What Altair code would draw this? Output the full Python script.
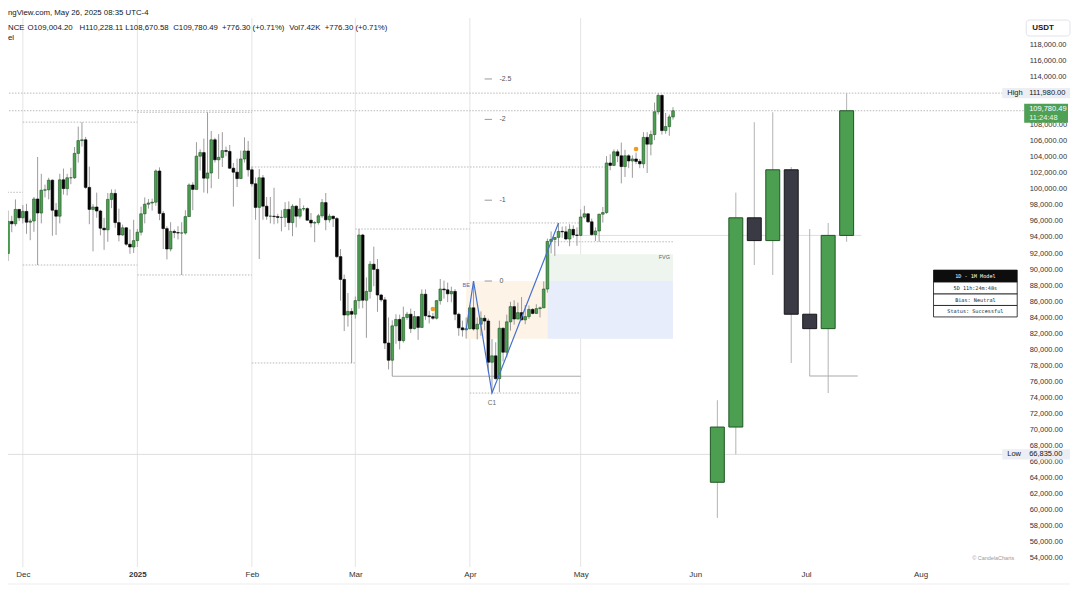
import altair as alt
import pandas as pd

# ---------------- daily BTC/USDT candles (from 2024-11-26) ----------------
first_day = "2024-11-26"
d_open = [93000, 91950, 95950, 95650, 97450,
          96400, 97200, 95850, 96000, 98750, 97000, 99850, 99900, 101100, 97350, 96600, 101150, 100050, 101400, 101400, 104450, 106050, 106150, 100200, 97450, 97750, 97250, 95100, 94900, 98700, 99450, 95800, 94250, 95150, 93100, 92750,
          93550, 94600, 96900, 98100, 98250, 98350, 102250, 96950, 95050, 92500, 94700, 94550, 94500, 94500, 96550, 100500, 99950, 104100, 104550, 101350, 102000, 106150, 103650, 103950, 104800, 104700, 102600, 102100, 101300, 103750, 104750,
          102400, 100650, 97700, 101400, 97850, 96600, 96600, 96550, 96450, 96450, 97450, 95800, 97850, 96600, 97500, 97550, 96100, 95750, 95800, 96650, 98300, 96150, 96600, 96300, 91550, 88700, 84250, 84700,
          84350, 86050, 94250, 86100, 87200, 90600, 89950, 86750, 86150, 80750, 78600, 82900, 83700, 81050, 83950, 84350, 82550, 84050, 82700, 86850, 84150, 84050, 83850, 86050, 87500, 87400, 86900, 87200, 84350, 82650, 82400,
          82550, 85150, 82500, 83100, 83850, 83500, 78350, 79150, 76300, 82600, 79600, 83400, 85300, 83750, 84550, 83650, 84050, 84950, 84450, 85050, 85150, 87500, 93450, 93700, 93950, 94700, 94650, 93750, 94950, 94250,
          94200, 96500, 96900, 95900, 94300, 94750, 96850, 97050, 103250, 102950, 104650, 104150, 102800, 104150, 103500, 103750, 103450, 103150, 106450, 105600, 106800, 109650, 111700, 107300, 107800, 109004]
d_high = [94900, 97300, 96650, 98700, 97500,
          98000, 98150, 96300, 99000, 104000, 101900, 100550, 101400, 101200, 98250, 101900, 102550, 101900, 102650, 105250, 107800, 108350, 106500, 102800, 98100, 99550, 97400, 96400, 99500, 99950, 99950, 97550, 95550, 95250, 94950, 96150,
          95000, 97800, 98950, 98750, 98800, 102450, 102700, 97250, 95350, 95850, 94950, 95350, 95850, 97350, 100700, 100850, 105850, 104950, 106300, 109590, 107250, 106400, 106850, 107100, 105300, 105500, 103250, 103800, 104800, 106450, 106000,
          102800, 101450, 102500, 101750, 99000, 99000, 100150, 96900, 97350, 98350, 98450, 98100, 97950, 98850, 97950, 97700, 97000, 96000, 96900, 98750, 99500, 96900, 96650, 96500, 92500, 89300, 87000, 85100,
          86550, 95000, 94400, 88950, 91000, 92800, 91250, 86900, 86500, 83950, 83600, 84350, 84300, 85300, 84650, 85050, 84750, 84100, 87450, 87450, 84800, 84500, 86100, 88750, 88550, 88300, 87800, 87500, 84550, 83550, 83950,
          85500, 88500, 83950, 84700, 84250, 83800, 81250, 80850, 83550, 82700, 84300, 85900, 86100, 85800, 86500, 85500, 85450, 85100, 85600, 85300, 88450, 93800, 94700, 94000, 95750, 95300, 95350, 95600, 95450, 95200,
          97450, 97900, 96950, 96300, 95200, 96900, 97750, 104100, 104350, 104950, 104950, 105800, 104900, 104350, 104200, 104550, 103750, 107100, 107100, 107300, 110800, 111980, 111800, 109500, 109300, 110228]
d_low = [90800, 91000, 94600, 95350, 96000,
         95700, 94400, 93600, 94650, 90500, 95700, 98950, 98700, 94150, 94250, 95700, 99300, 99200, 100600, 101250, 103300, 105300, 100000, 95600, 92200, 96400, 94200, 92400, 93400, 97600, 95150, 93450, 94150, 92900, 91900, 92000,
         92750, 94200, 95700, 97550, 97300, 97900, 96100, 92500, 91200, 92200, 93850, 93700, 89250, 94300, 96500, 97350, 99950, 102300, 99550, 99450, 100100, 103300, 101250, 102750, 104100, 102500, 97800, 100250, 101250, 103300, 101550,
         100300, 96150, 91250, 96150, 96150, 95700, 95600, 95700, 94700, 95250, 94850, 94100, 95200, 96300, 97250, 96050, 95200, 93350, 95550, 96400, 94850, 95800, 95250, 91350, 86050, 82250, 82800, 78250,
         83800, 85050, 85100, 81400, 86300, 87850, 84650, 85900, 80000, 77450, 76600, 80650, 79950, 80800, 83650, 82000, 82450, 81150, 82650, 83650, 83200, 83650, 83700, 85550, 86300, 85850, 85850, 83600, 81650, 81550, 81300,
         82450, 82300, 81200, 81650, 82350, 77150, 74500, 76200, 74600, 78450, 78950, 82300, 83050, 83700, 83600, 83100, 83750, 84350, 84400, 83950, 85150, 87050, 91950, 91650, 92850, 93900, 93600, 92850, 93900, 92900,
         94100, 96300, 95750, 94150, 93500, 93400, 95800, 96900, 102350, 102850, 103350, 100700, 101500, 102600, 101400, 103100, 102600, 102600, 102000, 104200, 106100, 109300, 106800, 106900, 106650, 108670]
d_close = [91950, 95950, 95650, 97450, 96400,
           97200, 95850, 96000, 98750, 97000, 99850, 99900, 101100, 97350, 96600, 101150, 100050, 101400, 101400, 104450, 106050, 106150, 100200, 97450, 97750, 97250, 95100, 94900, 98700, 99450, 95800, 94250, 95150, 93100, 92750, 93550,
           94600, 96900, 98100, 98250, 98350, 102250, 96950, 95050, 92500, 94700, 94550, 94500, 94500, 96550, 100500, 99950, 104100, 104550, 101350, 102000, 106150, 103650, 103950, 104800, 104700, 102600, 102100, 101300, 103750, 104750, 102400,
           100650, 97700, 101400, 97850, 96600, 96600, 96550, 96450, 96450, 97450, 95800, 97850, 96600, 97500, 97550, 96100, 95750, 95800, 96650, 98300, 96150, 96600, 96300, 91550, 88700, 84250, 84700, 84350,
           86050, 94250, 86100, 87200, 90600, 89950, 86750, 86150, 80750, 78600, 82900, 83700, 81050, 83950, 84350, 82550, 84050, 82700, 86850, 84150, 84050, 83850, 86050, 87500, 87400, 86900, 87200, 84350, 82650, 82400, 82550,
           85150, 82500, 83100, 83850, 83500, 78350, 79150, 76300, 82600, 79600, 83400, 85300, 83750, 84550, 83650, 84050, 84950, 84450, 85050, 85150, 87500, 93450, 93700, 93950, 94700, 94650, 93750, 94950, 94250, 94200,
           96500, 96900, 95900, 94300, 94750, 96850, 97050, 103250, 102950, 104650, 104150, 102800, 104150, 103500, 103750, 103450, 103150, 106450, 105600, 106800, 109650, 111700, 107300, 107800, 109004, 109780]

# ---------------- monthly candles (Oct 2024 .. May 2025), projected to the right ----------------
m_names = ["Oct 2024", "Nov 2024", "Dec 2024", "Jan 2025", "Feb 2025", "Mar 2025", "Apr 2025", "May 2025"]
m_open = [63350, 70250, 96400, 93550, 102400, 84350, 82550, 94200]
m_high = [73600, 99550, 108350, 109590, 102750, 95000, 95750, 111980]
m_low = [58900, 66835, 90500, 89250, 78250, 76600, 74500, 93400]
m_close = [70250, 96400, 93550, 102400, 84350, 82550, 94200, 109780]

# ---------------- levels ----------------
dot_start = ["2024-11-26", "2024-12-01", "2024-12-01", "2025-01-01", "2025-01-01", "2025-02-01", "2025-02-01",
             "2025-03-01", "2025-04-01", "2025-04-01", "2025-04-24"]
dot_end = ["2024-12-01", "2025-01-01", "2025-01-01", "2025-02-01", "2025-02-01", "2025-05-08", "2025-03-01",
           "2025-04-01", "2025-05-01", "2025-05-01", "2025-05-26"]
dot_price = [99588, 108353, 90500, 109588, 89256, 102750, 78258, 95000, 95758, 74500, 93400]

full_dotted_price = [111980, 109780]     # all-time high and last price, across the whole pane
full_solid_price = [66835]               # range low, across the whole pane

swing_start = ["2025-03-11", "2025-07-02"]
swing_end = ["2025-05-01", "2025-07-15"]
swing_price = [76600, 76630]

light_start = ["2025-05-01"]
light_end = ["2025-07-16"]
light_price = [94200]

zone_start = ["2025-03-31", "2025-04-22", "2025-04-22"]
zone_end = ["2025-04-22", "2025-05-26", "2025-05-26"]
zone_low = [81300, 88500, 81300]
zone_high = [88500, 91850, 88500]
zone_fill = ["#fdf3e7", "#eef5ee", "#e7edfb"]

zz_dates = ["2025-03-31", "2025-04-02", "2025-04-07", "2025-04-25"]
zz_price = [82400, 88500, 74500, 95750]

dot_dates = ["2025-03-22", "2025-05-16"]
dot_vals = [85000, 105000]

sd_labels = ["-2.5", "-2", "-1", "0"]
sd_price = [113750, 108700, 98600, 88500]

month_ticks = ["2024-12-01", "2025-01-01", "2025-02-01", "2025-03-01", "2025-04-01",
               "2025-05-01", "2025-06-01", "2025-07-01", "2025-08-01"]
grid_months = month_ticks[:6]   # the screenshot shows no grid in the empty future area

FONT = "Liberation Sans"
MONO = "DejaVu Sans Mono"
GREEN = "#4c9e51"
GREEN_EDGE = "#1f5523"


def iso(s):
    return pd.Timestamp(s).strftime("%Y-%m-%dT%H:%M:%SZ")


dates = pd.date_range(first_day, periods=len(d_open), freq="D")
daily = pd.DataFrame({"date": dates.strftime("%Y-%m-%dT%H:%M:%SZ"), "open": d_open, "high": d_high,
                      "low": d_low, "close": d_close})
daily_up = daily[daily["close"] >= daily["open"]]
daily_dn = daily[daily["close"] < daily["open"]]

proj = pd.date_range("2025-06-07", periods=len(m_open), freq="5D")
monthly = pd.DataFrame({"date": proj.strftime("%Y-%m-%dT%H:%M:%SZ"), "name": m_names, "open": m_open,
                        "high": m_high, "low": m_low, "close": m_close})
monthly_up = monthly[monthly["close"] >= monthly["open"]]
monthly_dn = monthly[monthly["close"] < monthly["open"]]

dots_df = pd.DataFrame({"s": [iso(s) for s in dot_start], "e": [iso(s) for s in dot_end], "p": dot_price})
swing_df = pd.DataFrame({"s": [iso(s) for s in swing_start], "e": [iso(s) for s in swing_end], "p": swing_price})
light_df = pd.DataFrame({"s": [iso(s) for s in light_start], "e": [iso(s) for s in light_end], "p": light_price})
zz_df = pd.DataFrame({"d": [iso(s) for s in zz_dates], "p": zz_price, "o": list(range(len(zz_dates)))})
od_df = pd.DataFrame({"d": [iso(s) for s in dot_dates], "p": dot_vals})
sd_df = pd.DataFrame({"lab": sd_labels, "p": sd_price, "s": iso("2025-04-05"), "e": iso("2025-04-07"),
                      "t": iso("2025-04-09")})
grid_df = pd.DataFrame({"d": [iso(s) for s in grid_months]})
fdot_df = pd.DataFrame({"p": full_dotted_price})
fsol_df = pd.DataFrame({"p": full_solid_price})

XS = alt.Scale(type="utc", domain=[alt.DateTime(year=2024, month=11, date=28, hours=8, utc=True),
                                   alt.DateTime(year=2025, month=8, date=27, hours=17, utc=True)])
YS = alt.Scale(domain=[52762, 122482], nice=False, zero=False)

tick_vals = []
for t in month_ticks:
    ts = pd.Timestamp(t)
    tick_vals.append(alt.DateTime(year=ts.year, month=ts.month, date=1, utc=True))

XAX = alt.Axis(values=tick_vals, title=None, grid=False, domain=False,
               ticks=False, labelFont=FONT, labelFontSize=8, labelColor="#333333", labelPadding=4,
               labelAlign="center",
               labelExpr="utcmonth(datum.value)==0 ? utcFormat(datum.value,'%Y') : utcFormat(datum.value,'%b')",
               labelFontWeight={"condition": {"test": "utcmonth(datum.value)==0", "value": "bold"},
                                "value": "normal"})
YAX = alt.Axis(orient="right", values=list(range(54000, 118001, 2000)), format=",.2f", title=None, grid=False,
               domain=False, ticks=False, labelFont=FONT, labelFontSize=7.5, labelColor="#333333",
               labelPadding=5)


def X(f):
    return alt.X(f, type="temporal", scale=XS, axis=XAX)


def Y(f):
    return alt.Y(f, type="quantitative", scale=YS, axis=YAX)


grid = alt.Chart(grid_df).mark_rule(color="#e4e4e4", strokeWidth=1).encode(
    x=X("d"), y=alt.value(9), y2=alt.value(560))

zones = []
for s, e, lo, hi, col in zip(zone_start, zone_end, zone_low, zone_high, zone_fill):
    zdf = pd.DataFrame({"s": [iso(s)], "e": [iso(e)], "lo": [lo], "hi": [hi]})
    zones.append(alt.Chart(zdf).mark_rect(fill=col).encode(x=X("s"), x2="e", y=Y("lo"), y2="hi"))

dotted = alt.Chart(dots_df).mark_rule(color="#b9b9b9", strokeDash=[1.5, 1.5], strokeWidth=1).encode(
    x=X("s"), x2="e", y=Y("p"))
full_dotted = alt.Chart(fdot_df).mark_rule(color="#b9b9b9", strokeDash=[1.5, 1.5], strokeWidth=1).encode(
    x=alt.value(-8), x2=alt.value(1020), y=Y("p"))
full_solid = alt.Chart(fsol_df).mark_rule(color="#dedede", strokeWidth=1).encode(
    x=alt.value(-8), x2=alt.value(1020), y=Y("p"))
swing = alt.Chart(swing_df).mark_rule(color="#a9a9a9", strokeWidth=1).encode(x=X("s"), x2="e", y=Y("p"))
light = alt.Chart(light_df).mark_rule(color="#dedede", strokeWidth=1).encode(x=X("s"), x2="e", y=Y("p"))

wicks = alt.Chart(daily).mark_rule(color="#9c9c9c", strokeWidth=1).encode(
    x=X("date"), y=Y("low"), y2="high")
bodies_up = alt.Chart(daily_up).mark_bar(size=2.7, fill=GREEN, stroke=GREEN_EDGE, strokeWidth=0.6).encode(
    x=X("date"), y=Y("open"), y2="close")
bodies_dn = alt.Chart(daily_dn).mark_bar(size=2.7, fill="#050505", stroke="#000000", strokeWidth=0.6).encode(
    x=X("date"), y=Y("open"), y2="close")

m_wicks = alt.Chart(monthly).mark_rule(color="#b3b3b3", strokeWidth=1).encode(x=X("date"), y=Y("low"), y2="high")
m_up = alt.Chart(monthly_up).mark_bar(size=14, fill=GREEN, stroke=GREEN_EDGE, strokeWidth=1).encode(
    x=X("date"), y=Y("open"), y2="close")
m_dn = alt.Chart(monthly_dn).mark_bar(size=14, fill="#3a3a44", stroke="#15151a", strokeWidth=1).encode(
    x=X("date"), y=Y("open"), y2="close")

zigzag = alt.Chart(zz_df).mark_line(color="#4470cf", strokeWidth=1.2).encode(x=X("d"), y=Y("p"), order="o:Q")
odots = alt.Chart(od_df).mark_circle(color="#f29a1e", size=22, opacity=1).encode(x=X("d"), y=Y("p"))

sd_dash = alt.Chart(sd_df).mark_rule(color="#9a9a9a", strokeWidth=1).encode(x=X("s"), x2="e", y=Y("p"))
sd_text = alt.Chart(sd_df).mark_text(align="left", baseline="middle", font=FONT, fontSize=7, color="#555555").encode(
    x=X("t"), y=Y("p"), text="lab:N")

ann_df = pd.DataFrame({"d": [iso("2025-04-07"), iso("2025-05-26"), iso("2025-04-01")],
                       "p": [73300, 91500, 88050], "lab": ["C1", "FVG", "BE"]})
c1 = alt.Chart(ann_df.iloc[[0]]).mark_text(align="center", baseline="middle", font=FONT, fontSize=6.5,
                                          color="#5d6b63").encode(x=X("d"), y=Y("p"), text="lab:N")
fvg = alt.Chart(ann_df.iloc[[1]]).mark_text(align="right", baseline="middle", dx=-3, font=FONT, fontSize=5.5,
                                           color="#666666").encode(x=X("d"), y=Y("p"), text="lab:N")
be = alt.Chart(ann_df.iloc[[2]]).mark_text(align="right", baseline="middle", dx=0, font=FONT, fontSize=5.5,
                                          color="#4a6bb8").encode(x=X("d"), y=Y("p"), text="lab:N")

one = pd.DataFrame({"k": [0]})


def txt(t, x, y, size=8.0, color="#131722", align="left", weight="normal", font=FONT, baseline="middle"):
    return alt.Chart(one).mark_text(text=t, align=align, baseline=baseline, fontSize=size, color=color,
                                    fontWeight=weight, font=font).encode(x=alt.value(x), y=alt.value(y))


def box(x, x2, y, y2, fill, stroke=None, sw=0.8, radius=0):
    kw = dict(fill=fill, cornerRadius=radius)
    if stroke:
        kw.update(stroke=stroke, strokeWidth=sw)
    return alt.Chart(one).mark_rect(**kw).encode(x=alt.value(x), x2=alt.value(x2), y=alt.value(y), y2=alt.value(y2))


# price tags on the right scale
tag_df = pd.DataFrame({"p": [111980, 66835], "lab": ["High", "Low"], "val": ["111,980.00", "66,835.00"]})
tag_df["top"] = tag_df["p"] + 650
tag_df["bot"] = tag_df["p"] - 650
tag_bg = alt.Chart(tag_df).mark_rect(fill="#eceef3").encode(x=alt.value(998), x2=alt.value(1066), y=Y("top"),
                                                             y2="bot")
tag_lab = alt.Chart(tag_df).mark_text(align="left", baseline="middle", font=FONT, fontSize=7.5,
                                      color="#131722").encode(x=alt.value(1003), y=Y("p"), text="lab:N")
tag_val = alt.Chart(tag_df).mark_text(align="left", baseline="middle", font=FONT, fontSize=7.5,
                                      color="#131722").encode(x=alt.value(1025), y=Y("p"), text="val:N")

cur_df = pd.DataFrame({"p": [109780], "top": [110650], "bot": [108290], "v": ["109,780.49"], "c": ["11:24:48"]})
cur_bg = alt.Chart(cur_df).mark_rect(fill="#4f9f55").encode(x=alt.value(1020), x2=alt.value(1064), y=Y("top"),
                                                             y2="bot")
cur_v = alt.Chart(cur_df).mark_text(align="left", baseline="middle", dy=-2, font=FONT, fontSize=7.5,
                                    color="white").encode(x=alt.value(1025), y=Y("p"), text="v:N")
cur_c = alt.Chart(cur_df).mark_text(align="left", baseline="middle", dy=7, font=FONT, fontSize=7.5,
                                    color="#e8f5e9").encode(x=alt.value(1025), y=Y("p"), text="c:N")

# header legend, kept fully inside the chart's left and top edges
HS = 7.85
hdr_items = ["NCE", "O109,004.20", "H110,228.11", "L108,670.58", "C109,780.49", "+776.30 (+0.71%)", "Vol7.42K",
             "+776.30 (+0.71%)"]
hdr_x = [0, 19.5, 71.8, 117.6, 165.8, 214.7, 282.2, 318]
header = [txt("ngView.com, May 26, 2025 08:35 UTC-4", 0, 4, size=HS)]
header += [txt(t, x, 19, size=HS) for t, x in zip(hdr_items, hdr_x)]
header.append(txt("el", 0, 29, size=HS))

usdt = [box(1022, 1066, 11, 27, "white", "#e0e3eb", 1, 3), txt("USDT", 1028, 19, size=8, weight="bold")]

# model table
table_rows = ["1D - 1M Model", "5D 11h:24m:48s", "Bias: Neutral", "Status: Successful"]
row_y = [262, 274, 286, 297.5, 309]
table = []
for i, t in enumerate(table_rows):
    fill = "#0d0d0d" if i == 0 else "white"
    table.append(box(929, 1013, row_y[i], row_y[i + 1], fill, "#111111", 0.8))
    table.append(txt(t, 971, (row_y[i] + row_y[i + 1]) / 2, size=5.2, color="white" if i == 0 else "#222222",
                     align="center", font=MONO))

credit = txt("\u00a9 CandelaCharts", 1010, 551, size=5.5, color="#9a9a9a", align="right")
bottom_line = alt.Chart(one).mark_rule(color="#eeeeee", strokeWidth=1).encode(
    x=alt.value(-8), x2=alt.value(1066), y=alt.value(577))

layers = [grid] + zones + [dotted, full_dotted, full_solid, light, swing, wicks, bodies_up, bodies_dn, m_wicks, m_up,
                           m_dn, zigzag, odots, sd_dash, sd_text, c1, fvg, be, tag_bg, tag_lab, tag_val, cur_bg,
                           cur_v, cur_c] + header + usdt + table + [credit, bottom_line]

chart = alt.layer(*layers).properties(
    width=1020, height=560,
    padding={"left": 0, "top": 0, "right": 48, "bottom": 24},
    autosize=alt.AutoSizeParams(type="none"),
    background="white",
).configure_view(stroke=None)

chart.save("out.html", embed_options={"renderer": "svg", "actions": False})
